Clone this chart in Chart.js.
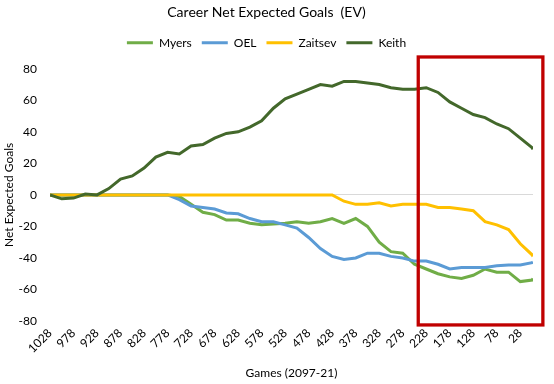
<!DOCTYPE html>
<html>
<head>
<meta charset="utf-8">
<script src="https://cdn.jsdelivr.net/npm/chart.js@4/dist/chart.umd.min.js"></script>
<style>
  html, body { margin: 0; padding: 0; background: #fff; }
  #chart { display: block; }
</style>
</head>
<body>
<canvas id="chart" width="554" height="384"></canvas>
<script>
'use strict';

// games remaining (x), sampled every 25 games
const games = [1028, 1003, 978, 953, 928, 903, 878, 853, 828, 803, 778, 753, 728, 703, 678, 653, 628, 603, 578, 553,
               528, 503, 478, 453, 428, 403, 378, 353, 328, 303, 278, 253, 228, 203, 178, 153, 128, 103, 78, 53, 28, 3, 1];

const myers   = [0, 0, 0, 0, 0, 0, 0, 0, 0, 0, 0, -1, -6, -11, -12.5, -16, -16, -18, -19, -18.5,
                 -18, -17, -18, -17, -15, -18, -15, -20, -30, -36, -37, -44, -47, -50, -52, -53, -51, -47, -49, -49, -55, -54, -53];
const oel     = [0, 0, 0, 0, 0, 0, 0, 0, 0, 0, 0, -3, -7, -8, -9, -11.5, -12, -15, -17, -17,
                 -19, -21, -27, -34, -39, -41, -40, -37, -37, -39, -40, -42, -42, -44, -47, -46, -46, -46, -45, -44.5, -44.5, -43, -42.5];
const zaitsev = [0, 0, 0, 0, 0, 0, 0, 0, 0, 0, 0, 0, 0, 0, 0, 0, 0, 0, 0, 0,
                 0, 0, 0, 0, 0, -4, -6, -6, -5, -7, -6, -6, -6, -8, -8, -9, -10, -17, -19, -22, -31, -38, -39];
const keith   = [0, -2.5, -2, 0.5, 0, 4, 10, 12, 17, 24, 27, 26, 31, 32, 36, 39, 40, 43, 47, 55,
                 61, 64, 67, 70, 69, 72, 72, 71, 70, 68, 67, 67, 68, 65, 59, 55, 51, 49, 45, 42, 36, 30, 29];

const xTicks = [1028, 978, 928, 878, 828, 778, 728, 678, 628, 578, 528, 478, 428, 378, 328, 278, 228, 178, 128, 78, 28];

// highlighted stretch (red box), in data units
const boxFrom = 245, boxTo = -20, boxTop = 87.5, boxBottom = -82.5;

const FONT = 'Lato, "Open Sans", sans-serif';
const TEXT = '#000';

const toPoints = function(values) {
    return values.map((v, i) => ({ x: games[i], y: v }));
};

const highlightBox = {
    id: 'highlightBox',
    afterDraw(chart) {
        const ctx = chart.ctx;
        const xs = chart.scales.x, ys = chart.scales.y;
        const x1 = xs.getPixelForValue(boxFrom), x2 = xs.getPixelForValue(boxTo);
        const y1 = ys.getPixelForValue(boxTop), y2 = ys.getPixelForValue(boxBottom);
        ctx.save();
        ctx.strokeStyle = '#c00000';
        ctx.lineWidth = 3.3;
        ctx.strokeRect(x1, y1, x2 - x1, y2 - y1);
        ctx.restore();
    }
};

// leave some room under the legend, like the original
const legendGap = {
    id: 'legendGap',
    beforeInit(chart) {
        const fit = chart.legend.fit;
        chart.legend.fit = function() {
            fit.call(this);
            this.height += 10;
        };
    }
};

const makeSet = function(label, values, color, order) {
    return {
        label: label,
        data: toPoints(values),
        borderColor: color,
        backgroundColor: color,
        borderWidth: 3,
        pointRadius: 0,
        tension: 0,
        fill: false,
        order: order
    };
};

document.addEventListener('DOMContentLoaded', function() {
    const canvas = document.querySelector('#chart').getContext('2d');
    new Chart(canvas, {
        type: 'line',
        data: {
            datasets: [
                makeSet('Myers', myers, '#70ad47', 4),
                makeSet('OEL', oel, '#5b9bd5', 3),
                makeSet('Zaitsev', zaitsev, '#ffc000', 2),
                makeSet('Keith', keith, '#43682b', 1)
            ]
        },
        options: {
            responsive: false,
            devicePixelRatio: 1,
            animation: false,
            layout: { padding: { top: 4, right: 21, left: 0, bottom: 0 } },
            plugins: {
                title: {
                    display: true,
                    text: 'Career Net Expected Goals  (EV)',
                    color: TEXT,
                    font: { family: FONT, size: 14, weight: 'normal' },
                    padding: { top: 0, bottom: 6 }
                },
                legend: {
                    display: true,
                    position: 'top',
                    labels: {
                        usePointStyle: true,
                        pointStyle: 'line',
                        pointStyleWidth: 26,
                        boxHeight: 12,
                        padding: 10,
                        color: TEXT,
                        font: { family: FONT, size: 12 },
                        sort: (a, b) => a.datasetIndex - b.datasetIndex
                    }
                },
                tooltip: { enabled: false }
            },
            scales: {
                x: {
                    type: 'linear',
                    reverse: true,
                    min: 1,
                    max: 1028,
                    afterBuildTicks: function(axis) {
                        axis.ticks = xTicks.map(v => ({ value: v }));
                    },
                    afterFit: function(axis) { axis.height = 63; },
                    grid: { display: false, drawTicks: false },
                    border: { display: false },
                    ticks: {
                        autoSkip: false,
                        minRotation: 45,
                        maxRotation: 45,
                        padding: 5,
                        color: TEXT,
                        font: { family: FONT, size: 12 },
                        callback: (v) => String(v)
                    },
                    title: {
                        display: true,
                        text: 'Games (2097-21)',
                        color: TEXT,
                        font: { family: FONT, size: 12 },
                        padding: { top: 0, bottom: 4 }
                    }
                },
                y: {
                    min: -80,
                    max: 80,
                    afterFit: function(axis) { axis.width = 50; },
                    grid: {
                        drawTicks: false,
                        color: (c) => (c.tick && c.tick.value === 0 ? '#d9d9d9' : 'rgba(0,0,0,0)'),
                        lineWidth: 1
                    },
                    border: { display: false },
                    ticks: {
                        stepSize: 20,
                        padding: 13,
                        color: TEXT,
                        font: { family: FONT, size: 12 }
                    },
                    title: {
                        display: true,
                        text: 'Net Expected Goals',
                        color: TEXT,
                        font: { family: FONT, size: 12 },
                        padding: { top: 2, bottom: 0 }
                    }
                }
            }
        },
        plugins: [highlightBox, legendGap]
    });
});
</script>
</body>
</html>
